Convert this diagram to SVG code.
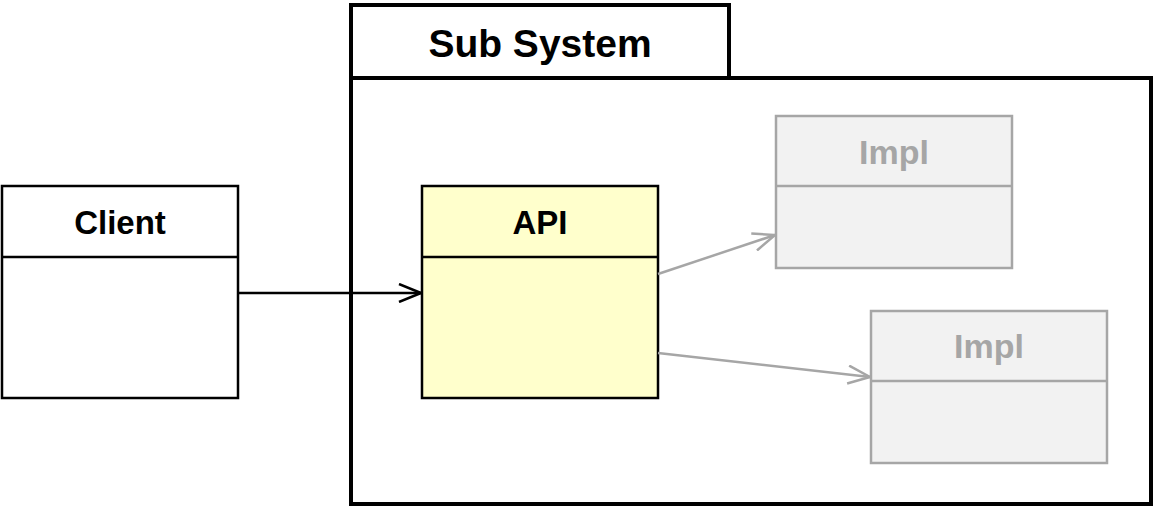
<svg xmlns="http://www.w3.org/2000/svg" width="1157" height="508" viewBox="0 0 1157 508">
<defs>
<style>
.lbl{font-family:"Liberation Sans",Arial,sans-serif;font-weight:bold;text-anchor:middle}
.blk{fill:#000}
.gry{fill:#A6A6A6}
.cls{stroke:#000;stroke-width:2.5}
.imp{fill:#F2F2F2;stroke:#A6A6A6;stroke-width:2.5}
</style>
<marker id="ab" viewBox="0 0 24 20" refX="23" refY="10" markerWidth="24" markerHeight="20" markerUnits="userSpaceOnUse" orient="auto"><path d="M1,1 L23,10 L1,19" fill="none" stroke="#000" stroke-width="2.5"/></marker>
<marker id="ag" viewBox="0 0 24 20" refX="23" refY="10" markerWidth="24" markerHeight="20" markerUnits="userSpaceOnUse" orient="auto"><path d="M1,1 L23,10 L1,19" fill="none" stroke="#A6A6A6" stroke-width="2.5"/></marker>
</defs>
<rect width="1157" height="508" fill="#fff"/>
<g id="subsystem">
<rect x="351" y="5" width="378" height="73" fill="#fff" stroke="#000" stroke-width="4"/>
<rect x="351" y="78" width="800" height="426" fill="#fff" stroke="#000" stroke-width="4"/>
<text class="lbl blk" x="540" y="57" font-size="39">Sub System</text>
</g>
<g id="client">
<rect class="cls" x="2" y="186" width="236" height="212" fill="#fff"/>
<line class="cls" x1="2" y1="257" x2="238" y2="257"/>
<text class="lbl blk" x="120" y="234" font-size="33">Client</text>
</g>
<g id="api">
<rect class="cls" x="422" y="186" width="236" height="212" fill="#FFFFCC"/>
<line class="cls" x1="422" y1="257" x2="658" y2="257"/>
<text class="lbl blk" x="540" y="234" font-size="33">API</text>
</g>
<g id="impl1">
<rect class="imp" x="776" y="116" width="236" height="152"/>
<line class="imp" x1="776" y1="186" x2="1012" y2="186"/>
<text class="lbl gry" x="894" y="164" font-size="34">Impl</text>
</g>
<g id="impl2">
<rect class="imp" x="871" y="311" width="236" height="152"/>
<line class="imp" x1="871" y1="381" x2="1107" y2="381"/>
<text class="lbl gry" x="989" y="358" font-size="34">Impl</text>
</g>
<g id="connectors" fill="none">
<line x1="238" y1="293" x2="421" y2="293" stroke="#000" stroke-width="2.5" marker-end="url(#ab)"/>
<line x1="658" y1="274" x2="775" y2="235" stroke="#A6A6A6" stroke-width="2.5" marker-end="url(#ag)"/>
<line x1="658" y1="353" x2="870" y2="377" stroke="#A6A6A6" stroke-width="2.5" marker-end="url(#ag)"/>
</g>
</svg>
